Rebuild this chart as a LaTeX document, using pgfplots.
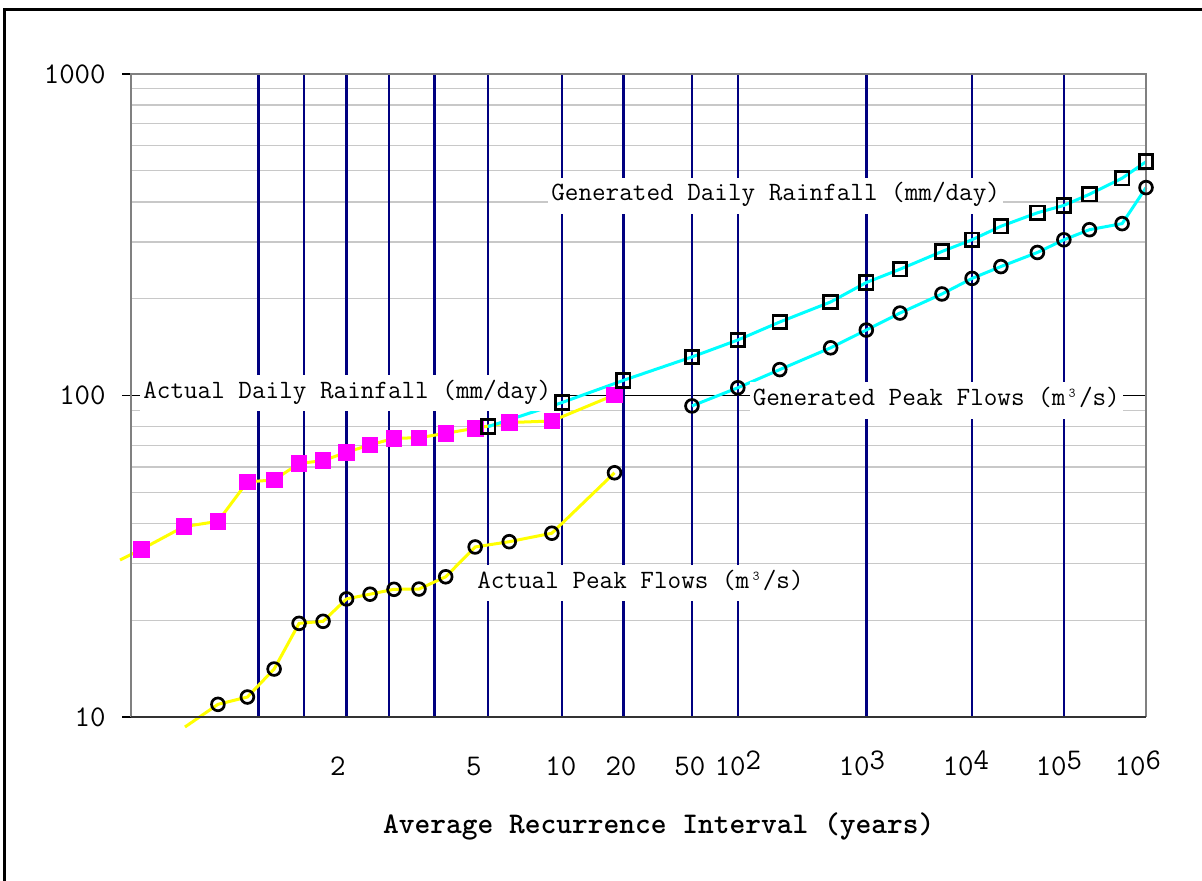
\documentclass[border=0pt]{standalone}
\usepackage{pgfplots}
\pgfplotsset{compat=1.18}

\definecolor{navyline}{HTML}{000080}
\definecolor{gridgray}{HTML}{C8C8C8}
\definecolor{framegray}{HTML}{808080}
\definecolor{rainmag}{HTML}{FF00FF}
\definecolor{obsyellow}{HTML}{FFFF00}
\definecolor{gencyan}{HTML}{00FFFF}

% raised exponent, same size as the digits
\newcommand{\up}[1]{\raisebox{3pt}{#1}}
\newcommand{\lblfont}{\ttfamily\fontsize{13.2}{13.2}\selectfont}

% x = standard normal quantile of the non-exceedance probability 1-1/T
% observed annual maxima: Weibull plotting positions m/18
\pgfplotstableread{
z       v
-1.3468 30.8
-1.2206 33.2
-0.9674 39.1
-0.7647 40.6
-0.5895 53.9
-0.4307 54.6
-0.2822 61.5
-0.1397 62.7
0       66.6
0.1397  70.2
0.2822  73.6
0.4307  73.9
0.5895  76.3
0.7647  79.1
0.9674  82.4
1.2206  83.3
1.5932  100.4
}\actualrain

\pgfplotstableread{
z       v
-0.9608 9.31
-0.7647 10.95
-0.5895 11.54
-0.4307 14.1
-0.2822 19.56
-0.1397 19.85
0       23.3
0.1397  24.1
0.2822  24.96
0.4307  25.0
0.5895  27.3
0.7647  33.8
0.9674  35.1
1.2206  37.3
1.5932  57.5
}\actualflow

% generated series at T = 5, 10, 20, 50, 100, 200, 500, ..., 10^6
\pgfplotstableread{
z      v
0.8416 80.0
1.2816 95.1
1.6449 111.4
2.0537 131.8
2.3263 148.8
2.5758 169.3
2.8782 195.4
3.0902 224.6
3.2905 247.0
3.5401 280.5
3.7190 305.1
3.8906 336.0
4.1075 370.1
4.2649 390.2
4.4172 422.6
4.6114 474.1
4.7534 533.6
}\genrain

\pgfplotstableread{
z      v
2.0537 92.8
2.3263 105.7
2.5758 120.4
2.8782 140.7
3.0902 159.8
3.2905 180.5
3.5401 206.9
3.7190 231.3
3.8906 251.8
4.1075 278.5
4.2649 305.0
4.4172 327.9
4.6114 342.5
4.7534 443.3
}\genflow

\begin{document}
\begin{tikzpicture}
\useasboundingbox (0,0) rectangle (601pt,440pt);
\begin{axis}[
  scale only axis, width=507.5pt, height=321.5pt,
  at={(65.5pt,81.5pt)}, anchor=south west,
  xmin=-1.2816, xmax=4.7534,
  ymode=log, ymin=10, ymax=1000,
  clip=false,
  axis line style={draw=none},
  tick pos=left,
  tick label style={font=\ttfamily\fontsize{15}{15}\selectfont},
  xtick={-0.0511,0.7575,1.2747,1.6315,2.0417,2.3271,3.0643,3.6826,4.2356,4.7053},
  xticklabels={2,5,10,20,50,10\up{2},10\up{3},10\up{4},10\up{5},10\up{6}},
  xtick style={draw=none},
  xticklabel style={anchor=base, inner sep=0pt, yshift=-25pt},
  extra x ticks={-0.5244,-0.2533,0,0.2533,0.5244,0.8416,1.2816,1.6449,2.0537,2.3263,3.0902,3.7190,4.2649},
  extra x tick labels={},
  extra x tick style={grid=major, major grid style={navyline, line width=1.3pt}, tick style={draw=none}},
  ytick={10,100,1000},
  yticklabels={10,100,1000},
  tick align=outside,
  major tick length=4.5pt,
  minor tick length=0pt,
  ytick style={black, line width=0.6pt},
  yticklabel style={anchor=east, inner sep=0pt, xshift=-8pt},
  ymajorgrids, yminorgrids,
  major grid style={black, line width=0.5pt},
  minor grid style={gridgray, line width=0.7pt},
  xlabel={Average Recurrence Interval (years)},
  xlabel style={font=\ttfamily\bfseries\fontsize{15}{15}\selectfont,
    at={(rel axis cs:0.52,0)}, anchor=base, yshift=-58pt},
]
% observed series
\addplot[obsyellow, line width=1.5pt, no marks] table[x=z, y=v] {\actualrain};
\addplot[obsyellow, line width=1.5pt, no marks] table[x=z, y=v] {\actualflow};
\addplot[only marks, mark=square*, mark size=3.9pt,
  mark options={draw=rainmag, fill=rainmag}, skip coords between index={0}{1}]
  table[x=z, y=v] {\actualrain};
\addplot[only marks, mark=o, mark size=3.2pt,
  mark options={draw=black, line width=1.35pt}, skip coords between index={0}{1}]
  table[x=z, y=v] {\actualflow};
% generated series
\addplot[gencyan, line width=1.5pt, mark=square, mark size=3.4pt,
  mark options={draw=black, line width=1.4pt}] table[x=z, y=v] {\genrain};
\addplot[gencyan, line width=1.5pt, mark=o, mark size=3.2pt,
  mark options={draw=black, line width=1.35pt}] table[x=z, y=v] {\genflow};
% plot frame
\draw[framegray, line width=1.3pt] (rel axis cs:0,0) -- (rel axis cs:0,1)
  -- (rel axis cs:1,1) -- (rel axis cs:1,0);
\draw[black!80, line width=1.3pt] (rel axis cs:0,0) -- (rel axis cs:1,0);
% series labels
\begin{scope}[every node/.style={fill=white, anchor=west, font=\lblfont,
  inner xsep=1.5pt, inner ysep=4.5pt, text height=0.72em, text depth=0.22em}]
\node at (axis cs:1.1975,417.5) {Generated Daily Rainfall (mm/day)};
\node at (axis cs:-1.2284,101.8) {Actual Daily Rainfall (mm/day)};
\node at (axis cs:2.3949,96.3) {Generated Peak Flows (m³/s)};
\node at (axis cs:0.7575,26.1) {Actual Peak Flows (m³/s)};
\end{scope}
\end{axis}
% outer border
\draw[line width=1.5pt] (2pt,-2pt) -- (2pt,435pt) -- (603pt,435pt);
\end{tikzpicture}
\end{document}
